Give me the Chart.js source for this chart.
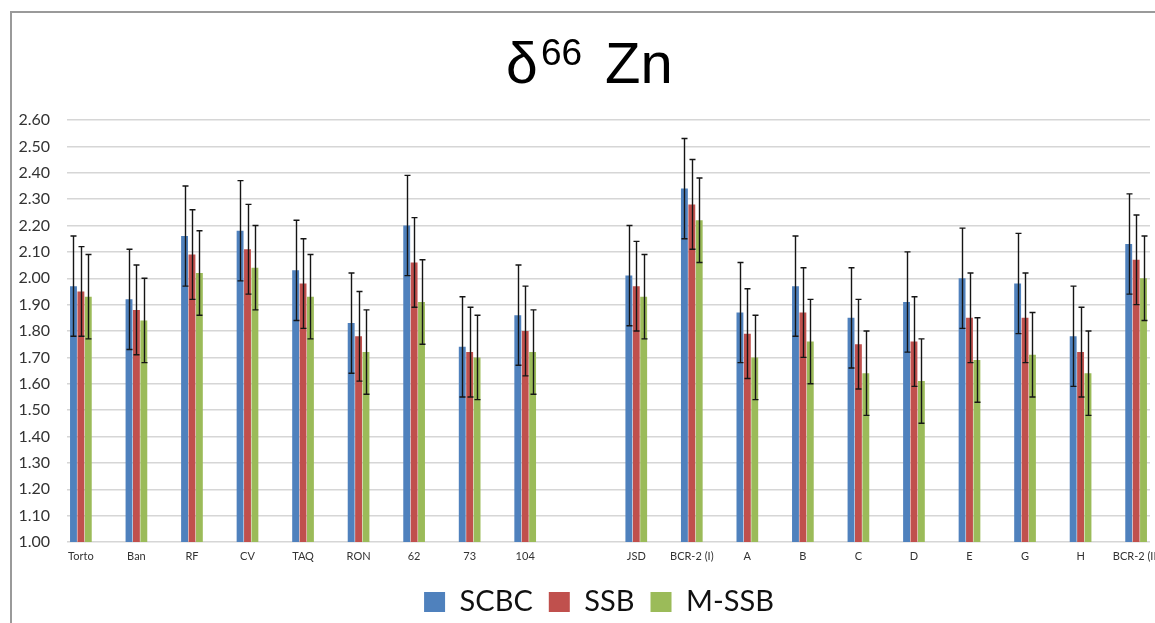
<!DOCTYPE html>
<html><head><meta charset="utf-8">
<script src="https://cdn.jsdelivr.net/npm/chart.js@4.4.0/dist/chart.umd.min.js"></script>
<style>
html,body{margin:0;padding:0;background:#fff;overflow:hidden;width:1155px;height:623px;}
#wrap{position:absolute;left:0;top:0;width:1175px;height:640px;}
</style></head><body>
<div id="wrap"><canvas id="c"></canvas></div>
<script>
// ---- data ----
const categories = ['Torto','Ban','RF','CV','TAQ','RON','62','73','104','','JSD','BCR-2 (I)','A','B','C','D','E','G','H','BCR-2 (II)'];
const seriesNames = ['SCBC','SSB','M-SSB'];
const scbcValues = [1.97,1.92,2.16,2.18,2.03,1.83,2.20,1.74,1.86,null,2.01,2.34,1.87,1.97,1.85,1.91,2.00,1.98,1.78,2.13];
const ssbValues  = [1.95,1.88,2.09,2.11,1.98,1.78,2.06,1.72,1.80,null,1.97,2.28,1.79,1.87,1.75,1.76,1.85,1.85,1.72,2.07];
const mssbValues = [1.93,1.84,2.02,2.04,1.93,1.72,1.91,1.70,1.72,null,1.93,2.22,1.70,1.76,1.64,1.61,1.69,1.71,1.64,2.00];
const scbcErrors = [0.19,0.19,0.19,0.19,0.19,0.19,0.19,0.19,0.19,null,0.19,0.19,0.19,0.19,0.19,0.19,0.19,0.19,0.19,0.19];
const ssbErrors  = [0.17,0.17,0.17,0.17,0.17,0.17,0.17,0.17,0.17,null,0.17,0.17,0.17,0.17,0.17,0.17,0.17,0.17,0.17,0.17];
const mssbErrors = [0.16,0.16,0.16,0.16,0.16,0.16,0.16,0.16,0.16,null,0.16,0.16,0.16,0.16,0.16,0.16,0.16,0.16,0.16,0.16];
const yTickLabels = ['1.00','1.10','1.20','1.30','1.40','1.50','1.60','1.70','1.80','1.90','2.00','2.10','2.20','2.30','2.40','2.50','2.60'];
const seriesColors = ['#4F81BD','#C0504D','#9BBB59'];

// each category is followed by an empty spacer slot (last spacer dropped)
function spread(arr, fill) {
  const out = [];
  arr.forEach((v, i) => { out.push(v); if (i < arr.length - 1) out.push(fill); });
  return out;
}
const labels = spread(categories, '');
const valueSets = [scbcValues, ssbValues, mssbValues];
const errorSets = [scbcErrors, ssbErrors, mssbErrors].map(a => spread(a, null));

const errorBarPlugin = {
  id: 'errorBars',
  afterDatasetsDraw(chart) {
    const ctx = chart.ctx, ys = chart.scales.y;
    ctx.save();
    ctx.strokeStyle = '#151515';
    ctx.lineWidth = 1.4;
    chart.data.datasets.forEach((ds, di) => {
      const meta = chart.getDatasetMeta(di);
      meta.data.forEach((el, i) => {
        const v = ds.data[i], e = errorSets[di][i];
        if (v == null || e == null) return;
        const x = Math.round(el.x) + 0.5;
        const yt = ys.getPixelForValue(v + e), yb = ys.getPixelForValue(v - e);
        ctx.beginPath();
        ctx.moveTo(x, yt); ctx.lineTo(x, yb);
        ctx.moveTo(x - 3, yt); ctx.lineTo(x + 3, yt);
        ctx.moveTo(x - 3, yb); ctx.lineTo(x + 3, yb);
        ctx.stroke();
      });
    });
    ctx.restore();
  }
};

const framePlugin = {
  id: 'frameTitle',
  afterLayout(chart) {
    // let the y tick labels use the space left of the axis box
    chart.scales.y.left = 0;
  },
  beforeDraw(chart) {
    const ctx = chart.ctx;
    ctx.save();
    ctx.fillStyle = '#fff';
    ctx.fillRect(0, 0, chart.width, chart.height);
    ctx.strokeStyle = '#9a9a9a';
    ctx.lineWidth = 2;
    ctx.beginPath();
    ctx.moveTo(11, chart.height); ctx.lineTo(11, 12); ctx.lineTo(chart.width, 12);
    ctx.stroke();
    ctx.restore();
  },
  afterDraw(chart) {
    const ctx = chart.ctx;
    ctx.save();
    ctx.fillStyle = '#000';
    ctx.textBaseline = 'alphabetic';
    ctx.textAlign = 'left';
    ctx.font = '57px "Liberation Sans", Arial, sans-serif';
    ctx.fillText('δ', 506, 83);
    ctx.font = '37px "Liberation Sans", Arial, sans-serif';
    ctx.fillText('66', 541, 65);
    ctx.font = '58px "Liberation Sans", Arial, sans-serif';
    ctx.fillText('Zn', 605, 83);
    ctx.restore();
  }
};

const chart = new Chart(document.getElementById('c'), {
  type: 'bar',
  data: {
    labels: labels,
    datasets: seriesNames.map((name, i) => ({
      label: name,
      data: spread(valueSets[i], null),
      backgroundColor: seriesColors[i],
      borderWidth: 0,
      categoryPercentage: 0.8,
      barPercentage: 0.93
    }))
  },
  options: {
    responsive: true,
    maintainAspectRatio: false,
    animation: false,
    layout: { padding: { left: 48, right: 25, top: 120, bottom: 13.5 } },
    scales: {
      x: {
        grid: { display: false, drawTicks: false },
        border: { display: false },
        ticks: { autoSkip: false, maxRotation: 0, minRotation: 0, padding: 8, color: '#333', font: { family: 'Lato', size: 11 } },
        afterFit(s) { s.height = 29.5; }
      },
      y: {
        min: 1, max: 2.6,
        afterBuildTicks(s) { s.ticks = yTickLabels.map(t => ({ value: parseFloat(t) })); },
        grid: { color: '#d6d6d6', lineWidth: 1.5, drawTicks: false },
        border: { display: false },
        ticks: { padding: 17, color: '#333', font: { family: 'Lato', size: 16 },
                 callback: (v) => Number(v).toFixed(2) },
        afterFit(s) { s.width = 19; }
      }
    },
    plugins: {
      title: { display: false },
      tooltip: { enabled: false },
      legend: {
        position: 'bottom',
        labels: { boxWidth: 21, boxHeight: 20, padding: 16, color: '#111', font: { family: 'Lato', size: 29 } }
      }
    }
  },
  plugins: [framePlugin, errorBarPlugin]
});
</script>
</body></html>
